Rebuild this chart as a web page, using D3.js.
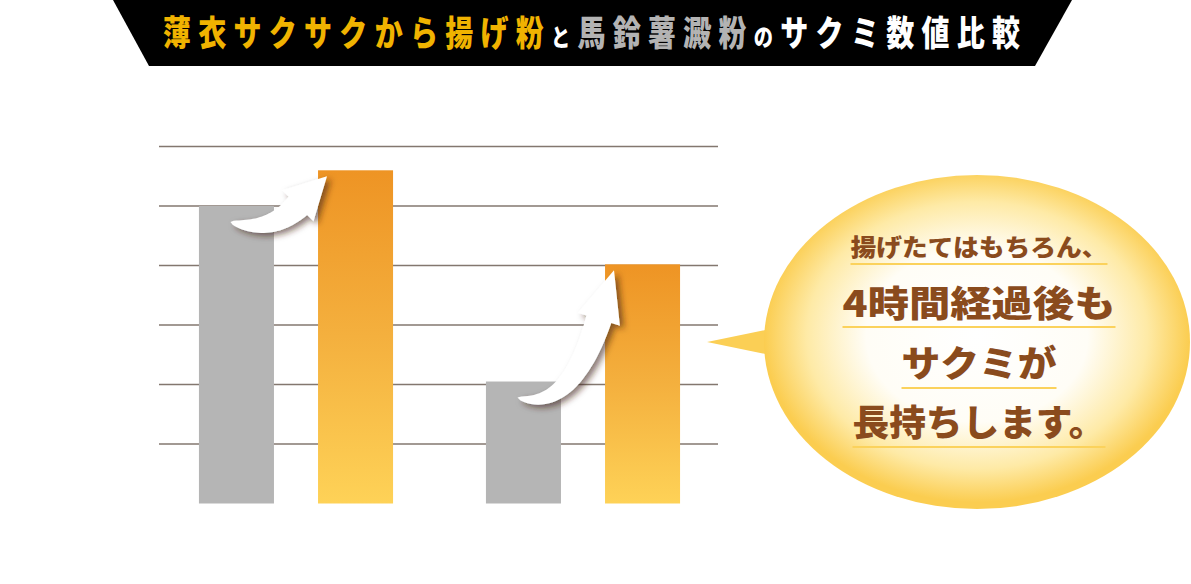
<!DOCTYPE html>
<html>
<head>
<meta charset="utf-8">
<script src="https://cdn.jsdelivr.net/npm/d3@7"></script>
<style>
  html, body { margin: 0; padding: 0; background: #fff; }
  svg { display: block; }
</style>
</head>
<body>
<script>
// data (grid unit = one horizontal line)
categories = ["揚げたて", "4時間経過後"]
seriesNames = ["馬鈴薯澱粉", "薄衣サクサクから揚げ粉"]
potatoStarch = [5.0, 2.05]
karaageFlour = [5.6, 4.02]
gridTicks = [1, 2, 3, 4, 5, 6]

titleParts = ["薄衣サクサクから揚げ粉", "と", "馬鈴薯澱粉", "の", "サクミ数値比較"]
bubbleLines = ["揚げたてはもちろん、", "4時間経過後も", "サクミが", "長持ちします。"]

w = 1191
h = 584
font = "'Noto Sans CJK JP', 'Noto Sans', sans-serif"

svg = d3.select("body").append("svg")
        .attr("width", w)
        .attr("height", h)

defs = svg.append("defs")

orangeGrad = defs.append("linearGradient").attr("id", "orangeGrad")
        .attr("x1", 0).attr("y1", 0).attr("x2", 0).attr("y2", 1)
orangeGrad.append("stop").attr("offset", "0%").attr("stop-color", "#ee9424")
orangeGrad.append("stop").attr("offset", "50%").attr("stop-color", "#f4b03e")
orangeGrad.append("stop").attr("offset", "100%").attr("stop-color", "#fed257")

bubbleGrad = defs.append("radialGradient").attr("id", "bubbleGrad")
        .attr("cx", "50%").attr("cy", "48%").attr("r", "50%")
bubbleGrad.append("stop").attr("offset", "0%").attr("stop-color", "#ffffff")
bubbleGrad.append("stop").attr("offset", "52%").attr("stop-color", "#fffdf6")
bubbleGrad.append("stop").attr("offset", "80%").attr("stop-color", "#feeaa6")
bubbleGrad.append("stop").attr("offset", "100%").attr("stop-color", "#fbcd50")

shadow = defs.append("filter").attr("id", "shadow")
        .attr("x", "-30%").attr("y", "-30%").attr("width", "160%").attr("height", "160%")
shadow.append("feDropShadow")
        .attr("dx", 4).attr("dy", 3).attr("stdDeviation", 3)
        .attr("flood-color", "#3a2410").attr("flood-opacity", 0.6)

// ---- title banner ----
svg.append("polygon")
        .attr("points", [[113, 0], [1072, 0], [1035, 66], [149, 66]].map(function(p) {
                return p.join(",")
        }).join(" "))
        .attr("fill", "#000")

titleColors = ["#f0b300", "#fff", "#b3b3b3", "#fff", "#fff"]
titleSizes = [35, 24, 35, 24, 35]
sx = 0.8

// glyphs in the original are condensed, so squeeze horizontally
title = svg.append("text")
        .attr("transform", "scale(" + sx + ",1)")
        .attr("x", 163 / sx)
        .attr("y", 46)
        .attr("font-family", font)
        .attr("font-weight", 900)
        .attr("textLength", 857 / sx)
        .attr("lengthAdjust", "spacing")
title.selectAll("tspan").data(titleParts)
        .enter().append("tspan")
        .attr("font-size", function(d, i) { return titleSizes[i] })
        .attr("fill", function(d, i) { return titleColors[i] })
        .text(function(d) { return d })

// ---- chart ----
y = d3.scaleLinear().domain([0, 6]).range([503.5, 146.5])

x0 = d3.scaleBand().domain(categories).range([152.5, 726.5])
x1 = d3.scaleBand().domain(seriesNames).range([0, x0.bandwidth()])
        .paddingInner(0.37).paddingOuter(0.39)

svg.append("g").attr("class", "grid")
        .selectAll("line").data(gridTicks)
        .enter().append("line")
        .attr("x1", 159).attr("x2", 718)
        .attr("y1", function(d) { return y(d) })
        .attr("y2", function(d) { return y(d) })
        .attr("stroke", "#83776f")
        .attr("stroke-width", 1.6)

barData = []
categories.forEach(function(c, i) {
        barData.push({ cat: c, series: seriesNames[0], value: potatoStarch[i] })
        barData.push({ cat: c, series: seriesNames[1], value: karaageFlour[i] })
})

svg.append("g").attr("class", "bars")
        .selectAll("rect").data(barData)
        .enter().append("rect")
        .attr("x", function(d) { return x0(d.cat) + x1(d.series) })
        .attr("width", x1.bandwidth())
        .attr("y", function(d) { return y(d.value) })
        .attr("height", function(d) { return y(0) - y(d.value) })
        .attr("fill", function(d) {
                return d.series == seriesNames[0] ? "#b5b5b5" : "url(#orangeGrad)"
        })

// curved arrows from the grey bar to the orange bar of each group
function arrowPath(tail, tip) {
        var cx = tip[0] - tail[0], cy = tip[1] - tail[1]
        var ang = Math.atan2(cy, cx) - 20 * Math.PI / 180
        var hd = [Math.cos(ang), Math.sin(ang)]
        var headLen = 36 + 0.12 * Math.abs(cy)
        var base = [tip[0] - headLen * hd[0], tip[1] - headLen * hd[1]]
        // tangent at the tail goes right and a little down
        var td = [1, 0.3]
        // intersect tail + s*td with base - u*hd
        var det = td[0] * hd[1] - td[1] * hd[0]
        var bx = base[0] - tail[0], by = base[1] - tail[1]
        var s = (bx * hd[1] - by * hd[0]) / det
        var ctrl = [tail[0] + s * td[0], tail[1] + s * td[1]]

        var n = 30, left = [], right = []
        for (var i = 0; i <= n; i++) {
                var t = i / n
                var px = (1 - t) * (1 - t) * tail[0] + 2 * (1 - t) * t * ctrl[0] + t * t * base[0]
                var py = (1 - t) * (1 - t) * tail[1] + 2 * (1 - t) * t * ctrl[1] + t * t * base[1]
                var dx = 2 * (1 - t) * (ctrl[0] - tail[0]) + 2 * t * (base[0] - ctrl[0])
                var dy = 2 * (1 - t) * (ctrl[1] - tail[1]) + 2 * t * (base[1] - ctrl[1])
                var len = Math.sqrt(dx * dx + dy * dy)
                var nx = -dy / len, ny = dx / len
                var hw = 13 * Math.pow(t, 0.55)
                left.push([px + nx * hw, py + ny * hw])
                right.push([px - nx * hw, py - ny * hw])
        }
        var perp = [-hd[1], hd[0]]
        var headW = 22
        var b1 = [base[0] + perp[0] * headW, base[1] + perp[1] * headW]
        var b2 = [base[0] - perp[0] * headW, base[1] - perp[1] * headW]
        var pts = left.concat([b1, tip, b2]).concat(right.reverse())
        return "M" + pts.map(function(p) { return p[0].toFixed(1) + "," + p[1].toFixed(1) }).join("L") + "Z"
}

svg.append("g").attr("class", "arrows")
        .selectAll("path").data(categories)
        .enter().append("path")
        .attr("d", function(c, i) {
                var gx = x0(c) + x1(seriesNames[0])
                var ox = x0(c) + x1(seriesNames[1])
                var tail = [gx + x1.bandwidth() * 0.42, y(potatoStarch[i]) + 16]
                var tip = [ox + 9, y(karaageFlour[i]) + 6]
                return arrowPath(tail, tip)
        })
        .attr("fill", "#fff")
        .attr("filter", "url(#shadow)")

// ---- speech bubble ----
bcx = 977
bcy = 342
bubble = svg.append("g").attr("class", "bubble")

bubble.append("polygon")
        .attr("points", [[707, 342], [785, 326], [785, 358]].map(function(p) {
                return p.join(",")
        }).join(" "))
        .attr("fill", "#fbcf55")

bubble.append("ellipse")
        .attr("cx", bcx).attr("cy", bcy)
        .attr("rx", 213).attr("ry", 167)
        .attr("fill", "url(#bubbleGrad)")

lineSizes = [24, 36, 36, 36]
lineBase = [256, 317, 377, 436]
lineWidths = [257, 273, 155, 253]
underY = [264, 327, 388, 447]

bubble.selectAll("line.ul").data(bubbleLines)
        .enter().append("line")
        .attr("class", "ul")
        .attr("x1", function(d, i) { return 979 - lineWidths[i] / 2 })
        .attr("x2", function(d, i) { return 979 + lineWidths[i] / 2 })
        .attr("y1", function(d, i) { return underY[i] })
        .attr("y2", function(d, i) { return underY[i] })
        .attr("stroke", "#fbd25c")
        .attr("stroke-width", 2.2)

bubble.selectAll("text").data(bubbleLines)
        .enter().append("text")
        .attr("x", function(d, i) { return 979 - lineWidths[i] / 2 })
        .attr("y", function(d, i) { return lineBase[i] })
        .attr("font-family", font)
        .attr("font-weight", 900)
        .attr("font-size", function(d, i) { return lineSizes[i] })
        .attr("textLength", function(d, i) { return lineWidths[i] })
        .attr("lengthAdjust", "spacingAndGlyphs")
        .attr("fill", "#8a4b1d")
        .text(function(d) { return d })
</script>
</body>
</html>
